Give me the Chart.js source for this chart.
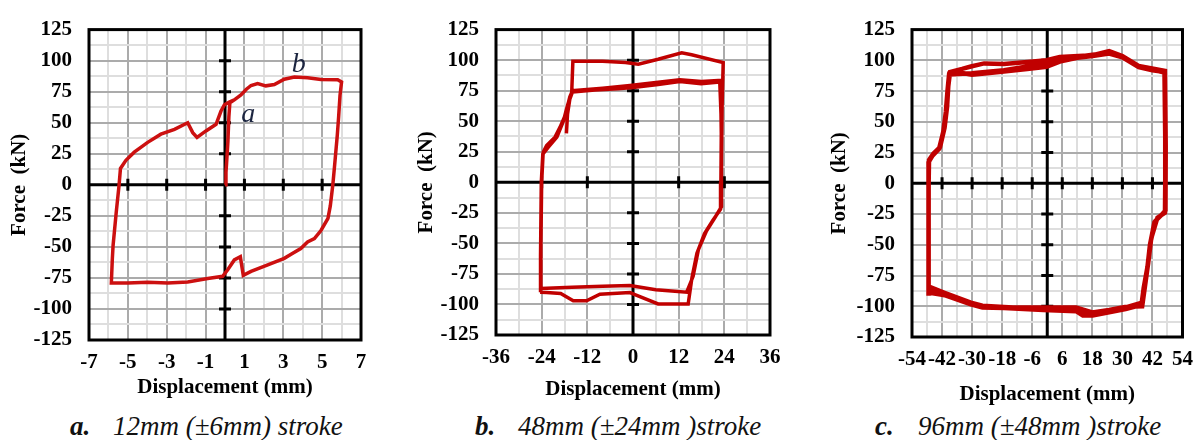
<!DOCTYPE html>
<html>
<head>
<meta charset="utf-8">
<script src="https://cdn.jsdelivr.net/npm/chart.js@4.4.1/dist/chart.umd.min.js"></script>
<style>
  body { margin: 0; background: #fff; width: 1203px; height: 440px; overflow: hidden; position: relative;
         font-family: "Liberation Serif", "DejaVu Serif", serif; }
  .panel { position: absolute; top: 0; }
  .cap { position: absolute; top: 413px; font-size: 27px; line-height: 27px; font-style: italic; color: #111; white-space: nowrap; }
  .cap b { font-weight: bold; }
</style>
</head>
<body>
<div class="panel" style="left:0px"><canvas id="chartA" width="400" height="410"></canvas></div>
<div class="panel" style="left:400px"><canvas id="chartB" width="400" height="410"></canvas></div>
<div class="panel" style="left:800px"><canvas id="chartC" width="403" height="410"></canvas></div>

<div class="cap" style="left:70px"><b>a.</b></div>
<div class="cap" style="left:113px">12mm (±6mm) stroke</div>
<div class="cap" style="left:475px"><b>b.</b></div>
<div class="cap" style="left:518px">48mm (±24mm )stroke</div>
<div class="cap" style="left:875px"><b>c.</b></div>
<div class="cap" style="left:918px">96mm (±48mm )stroke</div>

<script>
// tick labels
var forceTicks = [-125, -100, -75, -50, -25, 0, 25, 50, 75, 100, 125];
var dispTicksA = [-7, -5, -3, -1, 1, 3, 5, 7];
var dispTicksB = [-36, -24, -12, 0, 12, 24, 36];
var dispTicksC = [-54, -42, -30, -18, -6, 6, 18, 30, 42, 54];

// a. 12mm (+-6mm) stroke
var dispA = [0, 0.05, 0.08, 0.15, 0.2, 0.25, 0.48, 0.82, 1.1, 1.34, 1.68, 2.1, 2.54, 3.05, 3.57, 4.25, 4.94, 5.8, 6.0,
  5.92, 5.85, 5.78, 5.65, 5.55, 5.42, 5.3, 4.94, 4.6, 4.25, 3.9, 3.4, 3.05, 2.2, 1.34, 0.94, 0.79, 0.48, 0.14, -0.12,
  -0.89, -1.92, -2.95, -3.98, -5.0, -5.85, -5.8, -5.76, -5.6, -5.45, -5.38, -5.1, -4.67, -3.98, -3.3, -2.6, -1.92,
  -1.66, -1.44, -0.98, -0.46, -0.21, -0.03, 0.22, 0.48];
var forceA = [0, 10, 17, 35, 55, 66, 68.4, 72.3, 77, 80, 81.5, 79.7, 80.7, 85, 86.8, 86.3, 84.8, 84.7, 82.8,
  72, 55, 40, 17, 0, -17, -27, -36.8, -43.4, -46, -51.3, -56, -59.2, -64.5, -69.7, -72.9, -57.9, -60.5, -68.4, -73.7,
  -75.5, -78.2, -79, -78.4, -79, -79, -60, -48.7, -22.4, 0, 13.2, 19.7, 26.3, 34.2, 40.8, 44.7, 50,
  42, 38.2, 43.4, 48.7, 59.2, 64.5, 66.6, 68.4];

// b. 48mm (+-24mm) stroke
var dispB = [-17.5, -17.2, -16.6, -15.9, -10, -4, 0, 6.6, 12.3, 17.9, 22.8, 23.2, 23.3, 23.2, 21.5, 19.3, 17.2, 15.8, 14.1,
  6, -0.8, -8, -16, -24.3, -24.2, -24.0, -23.6, -22.7, -20.5, -19.2, -17.8, -16.6, -15.9, -8, -0.8, 6.6, 12.3, 18, 23,
  23.2, 23.1, 23.0, 21, 18.8, 16.8, 15.5, 14.5, 6.6, 0.5, -0.8, -8.7, -12.2, -15.7, -19, -22.7, -24.4, -24.3, -24.1,
  -23.7, -22.3, -20, -18.3, -17.2, -16.1, -15.8, -8, -2, 1.4, 6.6, 12.8, 15.4, 23.7, 23.4, 23.2];
var forceB = [40, 56, 68, 74, 75.5, 76.5, 77.5, 80, 82.5, 80.7, 82, 50, 0, -20, -29, -40, -55, -77, -90,
  -88, -84.5, -85, -86, -87, -50, 0, 24.6, 30, 37, 45, 55, 70, 75, 77, 79.3, 82, 84, 82.5, 83.5,
  40, 0, -22, -31, -42, -58, -78, -99.6, -99.6, -92, -90.3, -91.6, -97, -97, -91, -90.3, -90, -60, 0,
  23, 28.6, 37, 50, 63, 74, 99, 99, 98, 96.7, 100.7, 106, 104.4, 98, 60, 5];

// c. 96mm (+-48mm) stroke
var dispC = [-47.2, -45.6, -43, -41.3, -40.3, -39.7, -39, -35, -30.1, -24, -17.3, -8, -0.3, 5, 12, 18.1, 24.7, 30, 36.5,
  42, 47, 47.1, 47.1, 47, 45.7, 43.1, 41.1, 40.3, 39, 37.8, 31.3, 24.7, 18.1, 11.5, 5, -1.6, -10, -17.3, -25.9, -30.5,
  -41, -47.3, -47.4, -47.3, -47.2,
  -45.5, -42.8, -41, -40, -39.5, -38.8, -34, -30.5, -25.2, -17.3, -6.8, -0.3, 5, 18.1, 24.7, 30, 36.5, 47, 47.3, 47.2,
  45.5, 42.8, 41, 40, 38.5, 37.6, 31.3, 24.7, 18.1, 14.2, 11.5, -1.6, -17.3, -25.9, -30.5, -41, -47.4,
  -47.5, -47.3, -47.4, -45.8, -43.2, -41.5, -40.5, -39.8, -39.2, -30.1, -17.3, -8, -0.3, 7, 18.1, 24.7, 30, 36.5, 46.8,
  47.2, 47, 44, 41.5, 40.5, 39, 37.9, 31, 24.7, 18, 11.5, 0.4, -12.7, -25.9, -29.8, -39, -46.9, -47.3];
var forceC = [18, 23.4, 28.7, 43, 59, 77.6, 89.5, 90, 88.2, 89.5, 90.9, 93, 94.8, 99, 102, 103.5, 105.5, 102.5, 94.5,
  92, 90.5, 40, 0, -22.9, -25.5, -30.8, -49.3, -65.2, -82, -97, -101, -104, -106.2, -102.2, -101.5, -102.2, -101.5,
  -100.5, -99.6, -97, -89, -84, -60, 0, 19,
  24, 29.5, 45, 62, 79, 90.5, 93, 95, 97.5, 97, 98.8, 100.1, 102.8, 104.1, 107.5, 103.5, 95.5, 91.5, 30, -22,
  -26, -31.5, -50, -68, -85, -99, -102.2, -105, -107.5, -107.5, -104, -103, -101.5, -101, -98.5, -91, -88,
  -91.5, -30, 17, 22.5, 28, 42, 58, 76, 88.5, 89.5, 92, 95, 97.5, 101.5, 104.5, 106, 103, 95, 90,
  20, -24, -28, -45, -62, -84, -100, -100.5, -103, -105, -101, -101, -101, -100.5, -98.3, -91.7, -89, -90.5];

var FONT = '"Liberation Serif", "DejaVu Serif", serif';
var DARK = '#ababab';
var LIGHT = '#dedede';
var HALF_LINE = 12.6; // half of the 21px title line height

function points(xs, ys) {
  return xs.map(function (x, i) { return { x: x, y: ys[i] }; });
}

// axes crossing at zero, with cross tick marks, plus the black frame
var crossAxes = {
  id: 'crossAxes',
  beforeDatasetsDraw: function (chart, args, opts) {
    var ctx = chart.ctx, area = chart.chartArea;
    var xs = chart.scales.x, ys = chart.scales.y;
    var x0 = xs.getPixelForValue(0), y0 = ys.getPixelForValue(0);
    ctx.save();
    ctx.strokeStyle = '#000';
    ctx.lineWidth = 3;
    ctx.beginPath();
    ctx.moveTo(area.left, y0); ctx.lineTo(area.right, y0);
    ctx.moveTo(x0, area.top); ctx.lineTo(x0, area.bottom);
    opts.xMarks.forEach(function (v) {
      if (v === 0 || v === xs.min || v === xs.max) return;
      var p = xs.getPixelForValue(v);
      ctx.moveTo(p, y0 - 6); ctx.lineTo(p, y0 + 6);
    });
    opts.yMarks.forEach(function (v) {
      if (v === 0 || v === ys.min || v === ys.max) return;
      var p = ys.getPixelForValue(v);
      ctx.moveTo(x0 - 6, p); ctx.lineTo(x0 + 6, p);
    });
    ctx.stroke();
    ctx.strokeRect(area.left, area.top, area.width, area.height);
    ctx.restore();
  },
  afterDatasetsDraw: function (chart, args, opts) {
    if (!opts.notes) return;
    var ctx = chart.ctx;
    ctx.save();
    ctx.font = 'italic 28px ' + FONT;
    ctx.fillStyle = '#1c2540';
    ctx.textAlign = 'center';
    ctx.textBaseline = 'middle';
    opts.notes.forEach(function (n) {
      ctx.fillText(n.text, chart.scales.x.getPixelForValue(n.x), chart.scales.y.getPixelForValue(n.y));
    });
    ctx.restore();
  }
};

function buildChart(id, disp, force, dispTicks, color, lineWidth, box, notes) {
  var pad = {
    left: box.yTitleX - HALF_LINE,
    top: box.top,
    right: box.w - box.right,
    bottom: 410 - (box.xTitleY + HALF_LINE)
  };
  var yWidth = box.left - pad.left;
  var xHeight = box.xTitleY + HALF_LINE - box.bottom;
  var step = (dispTicks[1] - dispTicks[0]) / 2;

  function gridColor(list) {
    return function (c) { return list.indexOf(c.tick.value) >= 0 ? DARK : LIGHT; };
  }
  function tickLabel(list) {
    return function (v) { return list.indexOf(v) >= 0 ? String(v) : ''; };
  }

  return new Chart(document.getElementById(id), {
    type: 'scatter',
    data: {
      datasets: [{
        data: points(disp, force),
        showLine: true,
        borderColor: color,
        borderWidth: lineWidth,
        pointRadius: 0,
        tension: 0,
        fill: false
      }]
    },
    plugins: [crossAxes],
    options: {
      responsive: false,
      animation: false,
      layout: { padding: pad },
      plugins: {
        legend: { display: false },
        tooltip: { enabled: false },
        crossAxes: { xMarks: dispTicks, yMarks: forceTicks, notes: notes }
      },
      scales: {
        x: {
          type: 'linear',
          min: dispTicks[0],
          max: dispTicks[dispTicks.length - 1],
          afterFit: function (s) { s.height = xHeight; },
          border: { display: false },
          grid: { color: gridColor(dispTicks), lineWidth: 2, drawTicks: false },
          ticks: {
            stepSize: step, autoSkip: false, maxRotation: 0, minRotation: 0, padding: 10,
            color: '#000', font: { family: FONT, size: 21, weight: 'bold' },
            callback: tickLabel(dispTicks)
          },
          title: {
            display: true, text: 'Displacement (mm)', color: '#000', padding: 0,
            font: { family: FONT, size: 21, weight: 'bold', lineHeight: 1.2 }
          }
        },
        y: {
          type: 'linear',
          min: -125,
          max: 125,
          afterFit: function (s) { s.width = yWidth; },
          border: { display: false },
          grid: { color: gridColor(forceTicks), lineWidth: 2, drawTicks: false },
          ticks: {
            stepSize: 12.5, autoSkip: false, padding: 17,
            color: '#000', font: { family: FONT, size: 21, weight: 'bold' },
            callback: tickLabel(forceTicks)
          },
          title: {
            display: true, text: 'Force  (kN)', color: '#000', padding: 0,
            font: { family: FONT, size: 21, weight: 'bold', lineHeight: 1.2 }
          }
        }
      }
    }
  });
}

buildChart('chartA', dispA, forceA, dispTicksA, '#cc1010', 3.5,
  { w: 400, left: 89, right: 361, top: 23, bottom: 340, yTitleX: 20, xTitleY: 388 },
  [{ text: 'a', x: 1.2, y: 56.4 }, { text: 'b', x: 3.8, y: 97 }]);
buildChart('chartB', dispB, forceB, dispTicksB, '#c00000', 3.5,
  { w: 400, left: 96, right: 370, top: 23, bottom: 335, yTitleX: 27, xTitleY: 390 }, null);
buildChart('chartC', dispC, forceC, dispTicksC, '#c00000', 4.5,
  { w: 403, left: 112, right: 386, top: 22, bottom: 337, yTitleX: 40, xTitleY: 395 }, null);
</script>
</body>
</html>
